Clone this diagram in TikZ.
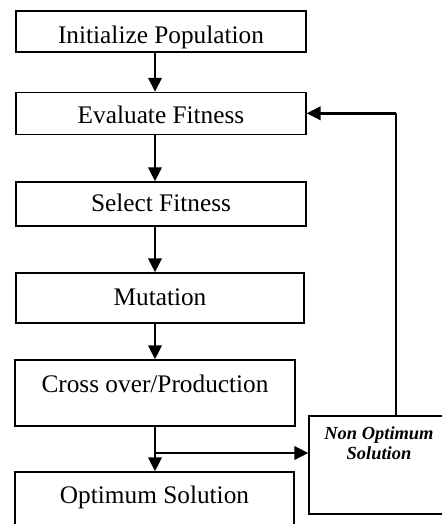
\documentclass[tikz,border=0pt]{standalone}
\usepackage{fontspec}
\setmainfont{Liberation Serif}
\usetikzlibrary{arrows.meta}

\begin{document}
\begin{tikzpicture}[x=0.02cm,y=-0.02cm]
\tikzstyle{every node}+=[inner sep=0pt]
\tikzstyle{stage}=[draw, line width=0.7pt, font=\fontsize{14.4}{16}\selectfont, text height=16pt]
\tikzstyle{flow}=[line width=1.7pt, -{Triangle[length=8pt,width=7.5pt]}]
\useasboundingbox (0,0) rectangle (442,524);
\clip (0,0) rectangle (442,524);
\node [stage, minimum width=5.8cm, minimum height=0.82cm, text depth=2.6pt] (init) at (161,31.5) {Initialize Population};
\node [stage, minimum width=5.8cm, minimum height=0.834cm, text depth=4.7pt] (eval) at (161,113.3) {Evaluate Fitness};
\node [stage, minimum width=5.8cm, minimum height=0.88cm, text depth=8pt] (select) at (161,204) {Select Fitness};
\node [stage, minimum width=5.76cm, minimum height=1.0cm, text depth=8pt] (mutate) at (160,298) {Mutation};
\node [stage, minimum width=5.6cm, minimum height=1.32cm, text depth=17.1pt] (cross) at (155,393) {Cross over/Production};
\node [stage, minimum width=5.58cm, minimum height=1.16cm, text depth=12.6pt] (optimum) at (154.5,501) {Optimum Solution};
\node [stage, minimum width=2.8cm, minimum height=1.96cm, text height=23pt, text depth=29.8pt, align=center,
  font=\fontsize{10.5}{11.3}\selectfont\bfseries\itshape] (nonopt) at (379,465) {Non Optimum\\Solution};
\coordinate (spine) at (155,0);
\coordinate (back) at (396,0);
\coordinate (fork) at (155,453);
\draw [flow] (init.south -| spine) -- (eval.north -| spine);
\draw [flow] (eval.south -| spine) -- (select.north -| spine);
\draw [flow] (select.south -| spine) -- (mutate.north -| spine);
\draw [flow] (mutate.south -| spine) -- (cross.north -| spine);
\draw [flow] (cross.south -| spine) -- (optimum.north -| spine);
\draw [flow] (fork) -- (fork -| nonopt.west);
\draw [line width=0.7pt] (nonopt.north -| back) -- (back |- eval.east);
\draw [flow] (back |- eval.east) -- (eval.east);
\end{tikzpicture}
\end{document}
